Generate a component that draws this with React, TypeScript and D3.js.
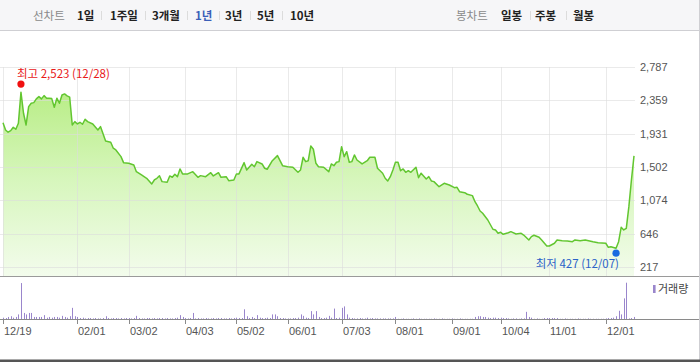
import React from "react";
import * as d3 from "d3";

const W = 700;
const H = 362;

// ---- data ----
const periodLabels = ["1일", "1주일", "3개월", "1년", "3년", "5년", "10년"];
const periodActive = "1년";
const candleLabels = ["일봉", "주봉", "월봉"];

const yTickValues = [217, 646, 1074, 1502, 1931, 2359, 2787];
const yTickLabels = ["217", "646", "1,074", "1,502", "1,931", "2,359", "2,787"];

// trading-day index of each month label
const xTickIdx = [0, 29, 49, 71, 91, 111, 132, 153, 175, 194, 213, 235];
const xTickLabels = ["12/19", "02/01", "03/02", "04/03", "05/02", "06/01", "07/03", "08/01", "09/01", "10/04", "11/01", "12/01"];

// closing prices: [trading-day index, price]
const priceIdx = [
  0, 1, 2, 3, 4, 5, 6, 7, 8, 9, 10, 11, 12, 13, 14, 15, 16, 17, 18, 19, 20, 21, 22, 23, 24, 25, 26, 27, 28, 29,
  30, 31, 32, 33, 35, 37, 38, 40, 42, 43, 44, 46, 47, 49, 51, 52, 54, 56, 58, 59, 60, 61, 62, 64, 65, 66, 67, 68, 69, 70,
  72, 74, 76, 77, 79, 81, 82, 84, 85, 87, 88, 90, 91, 92, 94, 95, 97, 98, 99, 101, 102, 103, 105, 107, 108, 109, 111, 113, 115, 116,
  117, 118, 119, 120, 121, 122, 123, 125, 127, 128, 129, 130, 131, 132, 133, 134, 135, 136, 137, 138, 140, 142, 143, 145, 146, 148, 149, 150, 151, 152,
  153, 154, 155, 156, 157, 158, 159, 161, 162, 163, 165, 166, 167, 168, 170, 172, 174, 176, 177, 178, 180, 181, 183, 184, 185, 186, 187, 189, 191, 192,
  193, 194, 195, 197, 198, 200, 202, 203, 205, 206, 207, 209, 210, 212, 213, 215, 216, 218, 220, 222, 223, 225, 227, 230, 232, 235, 236, 237, 239, 240,
  241, 242, 243, 244, 245, 246,
];
const priceVal = [
  2072, 1978, 1949, 1969, 2013, 1987, 2064, 2463, 2193, 2042, 2278, 2321, 2329, 2377, 2406, 2377, 2419, 2386, 2386, 2381, 2270, 2386, 2321, 2428, 2441, 2415, 2399, 2042, 2085, 2055,
  2077, 2051, 2116, 2085, 2055, 1978, 2021, 1837, 1820, 1743, 1721, 1635, 1558, 1550, 1528, 1442, 1400, 1357, 1284, 1335, 1357, 1390, 1314, 1306, 1387, 1370, 1409, 1378, 1477, 1413,
  1413, 1442, 1370, 1391, 1378, 1429, 1387, 1429, 1370, 1378, 1326, 1335, 1413, 1413, 1558, 1464, 1537, 1506, 1571, 1541, 1486, 1473, 1583, 1648, 1583, 1519, 1506, 1499, 1434, 1464,
  1627, 1571, 1583, 1772, 1730, 1550, 1506, 1499, 1442, 1541, 1519, 1563, 1571, 1763, 1635, 1699, 1563, 1571, 1657, 1592, 1541, 1583, 1627, 1627, 1486, 1422, 1357, 1323, 1378, 1464,
  1563, 1563, 1455, 1477, 1434, 1455, 1434, 1499, 1365, 1422, 1348, 1378, 1323, 1314, 1249, 1293, 1271, 1236, 1241, 1185, 1172, 1152, 1134, 1056, 1001, 937, 907, 821, 702, 693,
  650, 663, 637, 658, 671, 641, 650, 628, 564, 607, 625, 599, 564, 487, 487, 522, 564, 555, 551, 542, 564, 555, 564, 542, 529, 522, 470, 478, 457, 542,
  727, 693, 714, 992, 1335, 1644,
];

// daily volume (relative units), one per trading day
const volume = [
  5, 4, 7, 9, 5, 7, 14, 100, 18, 14,
  18, 18, 7, 7, 7, 7, 12, 5, 7, 5,
  7, 7, 5, 10, 7, 5, 9, 32, 9, 7,
  4, 5, 3, 4, 4, 3, 4, 3, 3, 4,
  9, 4, 3, 4, 4, 3, 4, 3, 4, 4,
  3, 4, 10, 4, 3, 3, 4, 4, 3, 4,
  3, 4, 4, 3, 4, 3, 3, 4, 5, 12,
  7, 4, 3, 4, 18, 3, 4, 3, 3, 4,
  3, 3, 4, 3, 4, 4, 3, 3, 4, 3,
  4, 5, 4, 4, 28, 9, 4, 7, 4, 12,
  5, 4, 4, 5, 4, 14, 14, 9, 4, 4,
  3, 3, 3, 4, 4, 5, 14, 10, 5, 4,
  23, 14, 23, 7, 4, 4, 5, 10, 5, 30,
  4, 5, 32, 36, 14, 5, 4, 3, 3, 4,
  3, 3, 5, 3, 4, 3, 3, 3, 3, 3,
  3, 3, 3, 7, 2, 2, 3, 2, 2, 2,
  3, 2, 3, 2, 2, 2, 2, 2, 3, 2,
  2, 3, 2, 2, 2, 3, 2, 2, 3, 2,
  2, 2, 2, 2, 7, 9, 9, 7, 7, 5,
  4, 5, 5, 4, 5, 4, 4, 3, 2, 3,
  3, 2, 3, 3, 21, 7, 5, 2, 3, 2,
  2, 4, 4, 4, 4, 4, 4, 2, 2, 3,
  2, 2, 2, 2, 3, 2, 2, 2, 3, 2,
  2, 2, 2, 2, 2, 3, 4, 4, 5, 9,
  24, 14, 58, 101, 3, 4, 7,
];

const highIdx = 7;
const highVal = 2523;
const highLabel = "최고 2,523 (12/28)";
const lowIdx = 239;
const lowVal = 427;
const lowLabel = "최저 427 (12/07)";
const volumeLegend = "거래량";

// ---- layout ----
const periodX = [77, 110, 152, 195, 225, 257, 290];
const periodSepX = [101, 145, 187, 219, 250, 282];
const candleX = [501, 535, 573];
const candleSepX = [530, 566];

const KR = "'Noto Sans CJK KR', 'Noto Sans', sans-serif";
const NUM = "'Liberation Sans', Arial, sans-serif";

export default function App() {
  const x = d3.scaleLinear().domain([0, 246]).range([3, 634]);
  const y = d3.scaleLinear().domain([217, 2787]).range([267, 67]);
  const vy = d3.scaleLinear().domain([0, 101]).range([319.5, 282.7]);

  const pts = priceIdx.map((d, i) => [d, priceVal[i]] as [number, number]);
  const line = d3.line<[number, number]>().x((d) => x(d[0])).y((d) => y(d[1]));
  const area = d3
    .area<[number, number]>()
    .x((d) => x(d[0]))
    .y0(276)
    .y1((d) => y(d[1]));

  return (
    <svg
      width={W}
      height={H}
      style={{ position: "absolute", left: 0, top: 0, background: "#fff" }}
    >
      <defs>
        <linearGradient id="gfill" gradientUnits="userSpaceOnUse" x1="0" y1="80" x2="0" y2="276">
          <stop offset="0" stopColor="#b5ec80" />
          <stop offset="0.5" stopColor="#d6f6bb" />
          <stop offset="1" stopColor="#f3fcec" />
        </linearGradient>
      </defs>

      {/* header */}
      <rect x={0} y={0} width={W} height={30} fill="#f6f6f8" />
      <line x1={0} x2={W} y1={30.5} y2={30.5} stroke="#cfcfd3" />
      <text x={33} y={19.5} fontFamily={KR} fontSize={11.5} fill="#8a8a8a">선차트</text>
      {periodLabels.map((l, i) => (
        <text
          key={l}
          x={periodX[i]}
          y={19.5}
          fontFamily={KR}
          fontSize={11.5}
          fontWeight="bold"
          fill={l === periodActive ? "#3a5fb8" : "#222"}
        >
          {l}
        </text>
      ))}
      {periodSepX.map((sx) => (
        <line key={sx} x1={sx + 0.5} x2={sx + 0.5} y1={11} y2={20} stroke="#dcdcdc" />
      ))}
      <text x={456} y={19.5} fontFamily={KR} fontSize={11.5} fill="#8a8a8a">봉차트</text>
      {candleLabels.map((l, i) => (
        <text key={l} x={candleX[i]} y={19.5} fontFamily={KR} fontSize={11.5} fontWeight="bold" fill="#222">
          {l}
        </text>
      ))}
      {candleSepX.map((sx) => (
        <line key={sx} x1={sx + 0.5} x2={sx + 0.5} y1={11} y2={20} stroke="#dcdcdc" />
      ))}

      {/* price area */}
      <path d={area(pts) || ""} fill="url(#gfill)" />

      {/* grid */}
      {yTickValues.map((v) => (
        <line
          key={"h" + v}
          x1={0}
          x2={635}
          y1={Math.round(y(v)) + 0.5}
          y2={Math.round(y(v)) + 0.5}
          stroke="#dcdcdc"
          strokeOpacity={0.6}
        />
      ))}
      {xTickIdx.map((t) => (
        <line
          key={"v" + t}
          x1={Math.round(x(t)) + 0.5}
          x2={Math.round(x(t)) + 0.5}
          y1={67}
          y2={276}
          stroke="#dcdcdc"
          strokeOpacity={0.6}
        />
      ))}

      <path d={line(pts) || ""} fill="none" stroke="#62c630" strokeWidth={1.5} strokeLinejoin="round" />

      {/* y labels */}
      {yTickValues.map((v, i) => (
        <text key={"yl" + v} x={640} y={y(v) + 4} fontFamily={NUM} fontSize={11} fill="#555">
          {yTickLabels[i]}
        </text>
      ))}

      {/* high / low markers */}
      <circle cx={x(highIdx)} cy={y(highVal) - 3.5} r={3.6} fill="#f01010" />
      <text x={17} y={78} fontFamily={KR} fontSize={11.5} fill="#e81818">{highLabel}</text>
      <circle cx={x(lowIdx)} cy={y(lowVal) + 2.5} r={3.6} fill="#1a6be0" />
      <text x={619} y={268} textAnchor="end" fontFamily={KR} fontSize={11.5} fill="#2a62c8">{lowLabel}</text>

      {/* panel separator */}
      <line x1={0} x2={W} y1={276.5} y2={276.5} stroke="#9a9a9a" />

      {/* volume */}
      {volume.map((v, i) => (
        <rect
          key={"vb" + i}
          x={Math.round(x(i))}
          y={vy(v)}
          width={1}
          height={vy(0) - vy(v)}
          fill="#9a86cc"
        />
      ))}
      <rect x={653} y={285} width={2.6} height={8} fill="#9a86cc" />
      <text x={658} y={293} fontFamily={KR} fontSize={11} fill="#444">{volumeLegend}</text>

      {/* x axis */}
      <line x1={0} x2={W} y1={319.5} y2={319.5} stroke="#8a8a8a" />
      {xTickIdx.map((t, i) => (
        <g key={"xt" + t}>
          <line
            x1={Math.round(x(t)) + 0.5}
            x2={Math.round(x(t)) + 0.5}
            y1={319.5}
            y2={324}
            stroke="#8a8a8a"
          />
          <text x={Math.round(x(t)) + 1} y={335} fontFamily={NUM} fontSize={11} fill="#555">
            {xTickLabels[i]}
          </text>
        </g>
      ))}

      {/* frame */}
      <line x1={699.5} x2={699.5} y1={0} y2={H} stroke="#cfcfd3" />
      <rect x={0} y={359.5} width={W} height={2.5} fill="#555" />
    </svg>
  );
}
